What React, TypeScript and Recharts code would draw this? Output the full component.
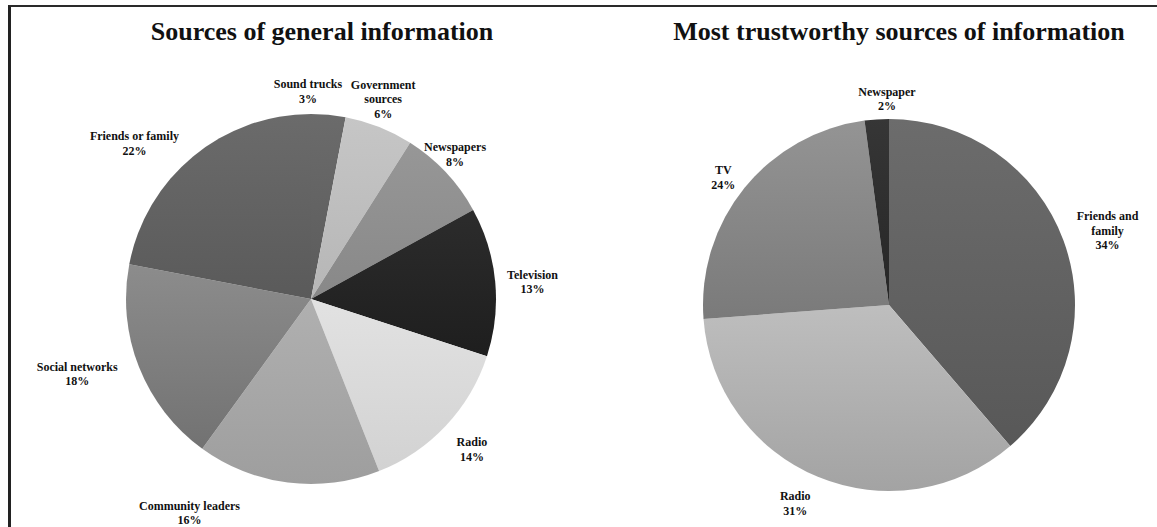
import { PieChart, Pie, Cell } from "recharts";

// left chart: sources of general information (clockwise from 12 o'clock)
const generalCategories = [
  "Sound trucks",
  "Government\nsources",
  "Newspapers",
  "Television",
  "Radio",
  "Community leaders",
  "Social networks",
  "Friends or family",
];
const generalValues = [3, 6, 8, 13, 14, 16, 18, 22];

// right chart: most trustworthy sources
const trustCategories = ["Friends and\nfamily", "Radio", "TV", "Newspaper"];
// slice shares as drawn in the picture
const trustShares = [38.7, 35.1, 24.1, 2.1];
// percentages printed on the labels
const trustPercents = [34, 31, 24, 2];

// [top, bottom] gradient colours per slice
const generalColors = [
  ["#6b6b6b", "#5b5b5b"],
  ["#c6c6c6", "#b6b6b6"],
  ["#979797", "#888888"],
  ["#2c2c2c", "#1e1e1e"],
  ["#e2e2e2", "#d2d2d2"],
  ["#b0b0b0", "#9e9e9e"],
  ["#8c8c8c", "#727272"],
  ["#6b6b6b", "#5a5a5a"],
];
const trustColors = [
  ["#6c6c6c", "#585858"],
  ["#bebebe", "#a3a3a3"],
  ["#949494", "#7a7a7a"],
  ["#363636", "#262626"],
];

// small hand adjustments to mimic Excel's label placement
const generalNudge = [
  [-23, 3], [-9, 5], [-15, 5], [0, 4], [2, 1], [-95, 4], [-14, -12], [-39, 11],
];
const trustNudge = [[2, 6], [-12, 1], [0, 7], [12, 6]];

const FONT = "'Liberation Serif', 'Times New Roman', serif";
const LABEL_SIZE = 12;
const LINE_H = 14.5;
const RAD = Math.PI / 180;

let ctx: CanvasRenderingContext2D | null = null;
function textWidth(s: string) {
  if (!ctx) ctx = document.createElement("canvas").getContext("2d");
  if (!ctx) return s.length * 6;
  ctx.font = `bold ${LABEL_SIZE}px ${FONT}`;
  return ctx.measureText(s).width;
}

function makeLabel(names: string[], pcts: number[], nudge: number[][]) {
  return (props: any) => {
    const { cx, cy, midAngle, outerRadius, index } = props;
    const lines = [...names[index].split("\n"), `${pcts[index]}%`];
    const w = Math.max(...lines.map(textWidth));
    const h = lines.length * LINE_H;
    const sx = Math.cos(midAngle * RAD);
    const sy = Math.sin(midAngle * RAD);
    const ext = Math.min(
      Math.abs(sx) > 1e-3 ? w / 2 / Math.abs(sx) : 1e6,
      Math.abs(sy) > 1e-3 ? h / 2 / Math.abs(sy) : 1e6
    );
    const dist = outerRadius + 12 + ext;
    const x = cx + dist * sx + nudge[index][0];
    const y = cy - dist * sy + nudge[index][1];
    return (
      <g>
        {lines.map((l, i) => (
          <text
            key={i}
            x={x}
            y={y + (i - (lines.length - 1) / 2) * LINE_H}
            textAnchor="middle"
            dominantBaseline="central"
            fontFamily={FONT}
            fontWeight="bold"
            fontSize={LABEL_SIZE}
            fill="#111"
          >
            {l}
          </text>
        ))}
      </g>
    );
  };
}

const generalData = generalCategories.map((name, i) => ({ name, value: generalValues[i] }));
const trustData = trustCategories.map((name, i) => ({ name, value: trustShares[i] }));

const titleStyle: React.CSSProperties = {
  position: "absolute",
  top: 17,
  fontFamily: FONT,
  fontWeight: "bold",
  fontSize: 26,
  color: "#111",
  whiteSpace: "nowrap",
  transform: "translateX(-50%)",
  lineHeight: "30px",
};

export default function App() {
  return (
    <div
      style={{
        position: "absolute",
        left: 0,
        top: 0,
        width: 1157,
        height: 527,
        background: "#fff",
        overflow: "hidden",
      }}
    >
      <div
        style={{
          position: "absolute",
          left: 8,
          top: 5,
          width: 1146,
          height: 540,
          borderTop: "2px solid #2a2a2a",
          borderLeft: "3px solid #222",
          borderRight: "1px solid #d0d0d0",
        }}
      />
      <div style={{ ...titleStyle, left: 322 }}>Sources of general information</div>
      <div style={{ ...titleStyle, left: 899 }}>Most trustworthy sources of information</div>
      <div style={{ position: "absolute", left: 0, top: 0 }}>
        <PieChart width={1157} height={527}>
          <defs>
            {generalColors.map((c, i) => (
              <linearGradient key={`g${i}`} id={`gen-${i}`} x1="0" y1="0" x2="0" y2="1">
                <stop offset="0%" stopColor={c[0]} />
                <stop offset="100%" stopColor={c[1]} />
              </linearGradient>
            ))}
            {trustColors.map((c, i) => (
              <linearGradient key={`t${i}`} id={`tr-${i}`} x1="0" y1="0" x2="0" y2="1">
                <stop offset="0%" stopColor={c[0]} />
                <stop offset="100%" stopColor={c[1]} />
              </linearGradient>
            ))}
          </defs>
          <Pie
            data={generalData}
            dataKey="value"
            nameKey="name"
            cx={306}
            cy={294}
            outerRadius={185}
            startAngle={90}
            endAngle={-270}
            stroke="none"
            labelLine={false}
            label={makeLabel(generalCategories, generalValues, generalNudge)}
            isAnimationActive={false}
          >
            {generalData.map((_, i) => (
              <Cell key={i} fill={`url(#gen-${i})`} />
            ))}
          </Pie>
          <Pie
            data={trustData}
            dataKey="value"
            nameKey="name"
            cx={884}
            cy={300}
            outerRadius={186}
            startAngle={90}
            endAngle={-270}
            stroke="none"
            labelLine={false}
            label={makeLabel(trustCategories, trustPercents, trustNudge)}
            isAnimationActive={false}
          >
            {trustData.map((_, i) => (
              <Cell key={i} fill={`url(#tr-${i})`} />
            ))}
          </Pie>
        </PieChart>
      </div>
    </div>
  );
}
